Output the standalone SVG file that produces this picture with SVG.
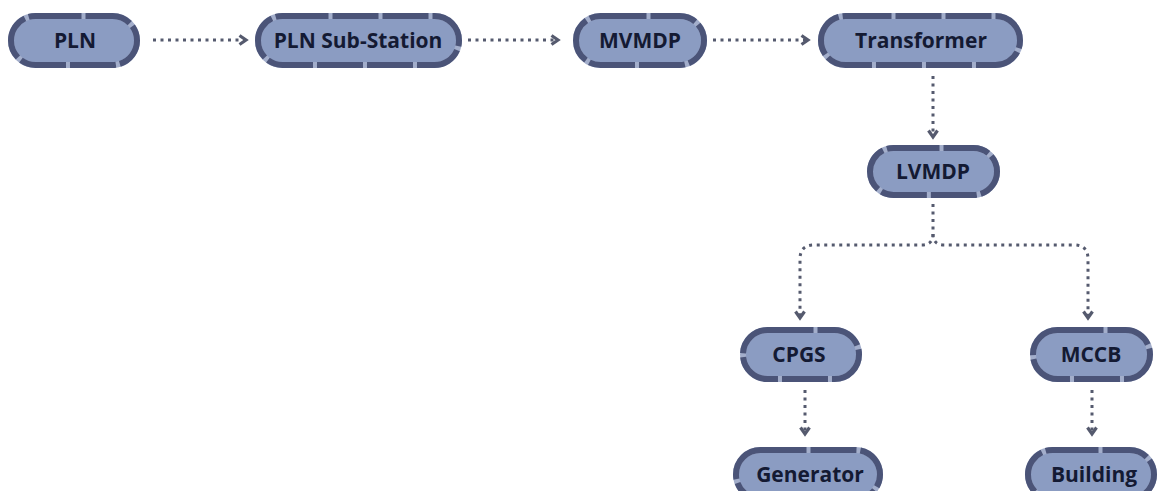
<svg xmlns="http://www.w3.org/2000/svg" width="1167" height="491" viewBox="0 0 1167 491">
<defs>
<style>
.node .bg{fill:#8b9cc2;stroke:#a3aecb;stroke-width:6}
.node .bd{fill:none;stroke:#4b5478;stroke-width:6;stroke-dasharray:46 4}
.node text{font-family:"Open Sans","Liberation Sans",sans-serif;font-weight:700;font-size:21px;fill:#141a33;text-anchor:middle}
.conn path{fill:none;stroke:#555a6e;stroke-width:3;stroke-dasharray:3 4.5}
</style>
<marker id="arr" viewBox="0 0 12 12" refX="8" refY="6" markerWidth="12" markerHeight="12" markerUnits="userSpaceOnUse" orient="auto">
<path d="M1.5,1.5 L8,6 L1.5,10.5" fill="none" stroke="#555a6e" stroke-width="3.2"/>
</marker>
</defs>
<rect width="1167" height="491" fill="#ffffff"/>
<g id="connectors" class="conn">
<path d="M153,40 H246" marker-end="url(#arr)"/>
<path d="M468,40 H558" marker-end="url(#arr)"/>
<path d="M713,40 H808" marker-end="url(#arr)"/>
<path d="M933,76 V137" marker-end="url(#arr)"/>
<path d="M933,204 V234 Q933,245 922,245 H814 Q800,245 800,259 V318" marker-end="url(#arr)"/>
<path d="M933,234 Q933,245 944,245 H1074 Q1088,245 1088,259 V318" marker-end="url(#arr)"/>
<path d="M805,390 V434" marker-end="url(#arr)"/>
<path d="M1092,390 V434" marker-end="url(#arr)"/>
</g>
<g id="n-pln" class="node"><rect class="bg" x="11" y="16" width="126" height="49" rx="24.5"/><rect class="bd" x="11" y="16" width="126" height="49" rx="24.5"/><text x="75" y="48">PLN</text></g>
<g id="n-sub" class="node"><rect class="bg" x="258" y="16" width="201" height="49" rx="24.5"/><rect class="bd" x="258" y="16" width="201" height="49" rx="24.5"/><text x="358" y="48">PLN Sub-Station</text></g>
<g id="n-mvmdp" class="node"><rect class="bg" x="576" y="16" width="128" height="49" rx="24.5"/><rect class="bd" x="576" y="16" width="128" height="49" rx="24.5"/><text x="640" y="48">MVMDP</text></g>
<g id="n-trans" class="node"><rect class="bg" x="821" y="16" width="199" height="49" rx="24.5"/><rect class="bd" x="821" y="16" width="199" height="49" rx="24.5"/><text x="921" y="48">Transformer</text></g>
<g id="n-lvmdp" class="node"><rect class="bg" x="870" y="148" width="127" height="47" rx="23.5"/><rect class="bd" x="870" y="148" width="127" height="47" rx="23.5"/><text x="933" y="179">LVMDP</text></g>
<g id="n-cpgs" class="node"><rect class="bg" x="743" y="330" width="116" height="49" rx="24.5"/><rect class="bd" x="743" y="330" width="116" height="49" rx="24.5"/><text x="799" y="362">CPGS</text></g>
<g id="n-mccb" class="node"><rect class="bg" x="1033" y="330" width="117" height="49" rx="24.5"/><rect class="bd" x="1033" y="330" width="117" height="49" rx="24.5"/><text x="1091" y="362">MCCB</text></g>
<g id="n-gen" class="node"><rect class="bg" x="736" y="450" width="144" height="49" rx="24.5"/><rect class="bd" x="736" y="450" width="144" height="49" rx="24.5"/><text x="810" y="482">Generator</text></g>
<g id="n-bld" class="node"><rect class="bg" x="1028" y="450" width="126" height="49" rx="24.5"/><rect class="bd" x="1028" y="450" width="126" height="49" rx="24.5"/><text x="1094" y="482">Building</text></g>
</svg>
